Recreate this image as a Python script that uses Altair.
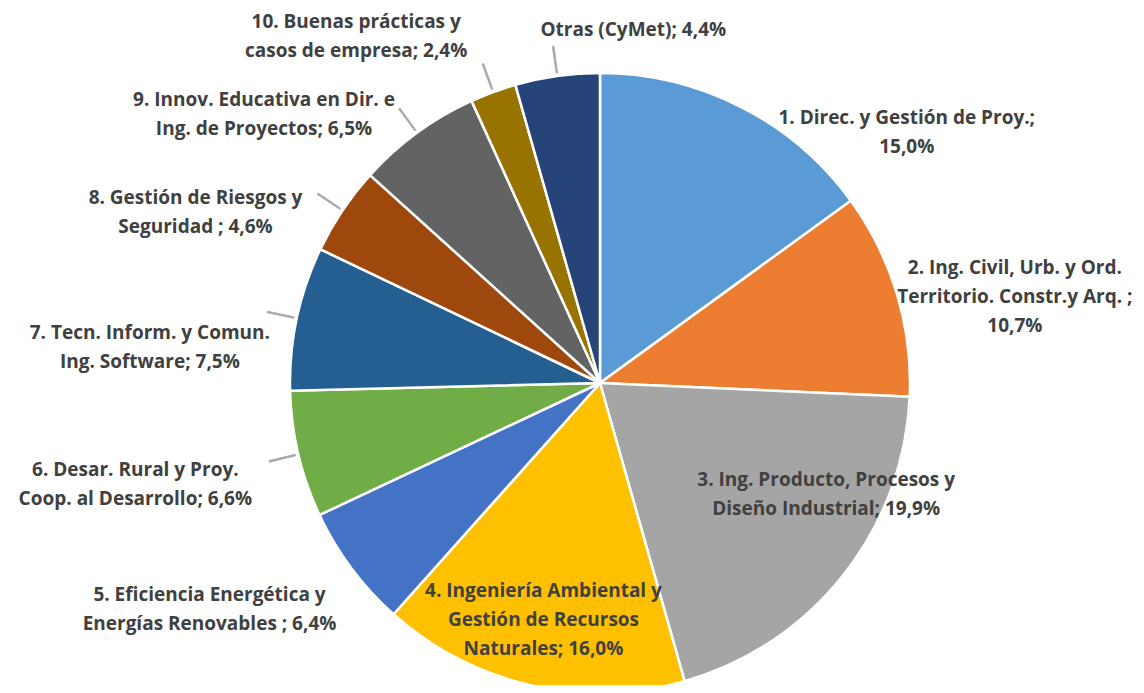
import math
import altair as alt
import pandas as pd

# ---- data ----
categories = [
    "1. Direc. y Gestión de Proy.",
    "2. Ing. Civil, Urb. y Ord. Territorio. Constr.y Arq.",
    "3. Ing. Producto, Procesos y Diseño Industrial",
    "4. Ingeniería Ambiental y Gestión de Recursos Naturales",
    "5. Eficiencia Energética y Energías Renovables",
    "6. Desar. Rural y Proy. Coop. al Desarrollo",
    "7. Tecn. Inform. y Comun. Ing. Software",
    "8. Gestión de Riesgos y Seguridad",
    "9. Innov. Educativa en Dir. e Ing. de Proyectos",
    "10. Buenas prácticas y casos de empresa",
    "Otras (CyMet)",
]
values = [15.0, 10.7, 19.9, 16.0, 6.4, 6.6, 7.5, 4.6, 6.5, 2.4, 4.4]
label_texts = [
    "1. Direc. y Gestión de Proy.;\n15,0%",
    "2. Ing. Civil, Urb. y Ord.\nTerritorio. Constr.y Arq. ;\n10,7%",
    "3. Ing. Producto, Procesos y\nDiseño Industrial; 19,9%",
    "4. Ingeniería Ambiental y\nGestión de Recursos\nNaturales; 16,0%",
    "5. Eficiencia Energética y\nEnergías Renovables ; 6,4%",
    "6. Desar. Rural y Proy.\nCoop. al Desarrollo; 6,6%",
    "7. Tecn. Inform. y Comun.\nIng. Software; 7,5%",
    "8. Gestión de Riesgos y\nSeguridad ; 4,6%",
    "9. Innov. Educativa en Dir. e\nIng. de Proyectos; 6,5%",
    "10. Buenas prácticas y\ncasos de empresa; 2,4%",
    "Otras (CyMet); 4,4%",
]
colors = ["#5B9BD5", "#ED7D31", "#A5A5A5", "#FFC000", "#4472C4", "#70AD47",
          "#255E91", "#9E480E", "#636363", "#997300", "#264478"]

df = pd.DataFrame({
    "idx": list(range(len(categories))),
    "category": categories,
    "value": values,
    "label": label_texts,
})

# ---- layout / style ----
W, H = 1128, 677
CX, CY = 592, 375
R = 310
TXT = "#404040"
FONT = "Open Sans"

label_offsets = {  # dx, dy of first text line from slice edge at mid angle
    0: (166, 11), 1: (118, -26), 2: (-17, -95), 3: (13, -94), 4: (-142, 27),
    5: (-163, 16), 6: (-147, 15), 7: (-147, -12), 8: (-153, -33), 9: (-137, -70),
    10: (76, -46),
}
leader_ids = [5, 6, 7, 8, 9, 10]

theta_scale = alt.Scale(domain=[0, 100], range=[0, 2 * math.pi])

base = alt.Chart(df).transform_window(
    cum="sum(value)", sort=[alt.SortField("idx")], frame=[None, 0]
).transform_calculate(
    start="datum.cum - datum.value",
    mid="datum.cum - datum.value / 2",
    m0="datum.cum - datum.value / 2 - 0.04",
    m1="datum.cum - datum.value / 2 + 0.04",
)

center = dict(x=alt.value(CX), y=alt.value(CY))

pie = base.mark_arc(radius=R, stroke="white", strokeWidth=2.5).encode(
    theta=alt.Theta("start:Q", scale=theta_scale),
    theta2="cum:Q",
    color=alt.Color("category:N", scale=alt.Scale(domain=categories, range=colors), legend=None),
    **center,
)

leaders = base.transform_filter(
    alt.FieldOneOfPredicate(field="idx", oneOf=leader_ids)
).mark_arc(radius=R + 3, radius2=R + 30, fill="#A6A6A6", stroke="#A6A6A6", strokeWidth=0.8).encode(
    theta=alt.Theta("m0:Q", scale=theta_scale),
    theta2="m1:Q",
    **center,
)

layers = [pie, leaders]
for i, (dx, dy) in label_offsets.items():
    layers.append(
        base.transform_filter(alt.datum.idx == i).mark_text(
            radius=R, dx=dx, dy=dy, align="center", baseline="middle",
            lineBreak="\n", lineHeight=29, font=FONT, fontSize=19,
            fontWeight="bold", color=TXT,
        ).encode(
            theta=alt.Theta("mid:Q", scale=theta_scale, stack=False),
            text="label:N",
            **center,
        )
    )

chart = alt.layer(*layers).properties(
    width=W, height=H, autosize="none", padding=0
).configure_view(stroke=None)

chart.save("out.html", embed_options={"renderer": "svg", "actions": False})
